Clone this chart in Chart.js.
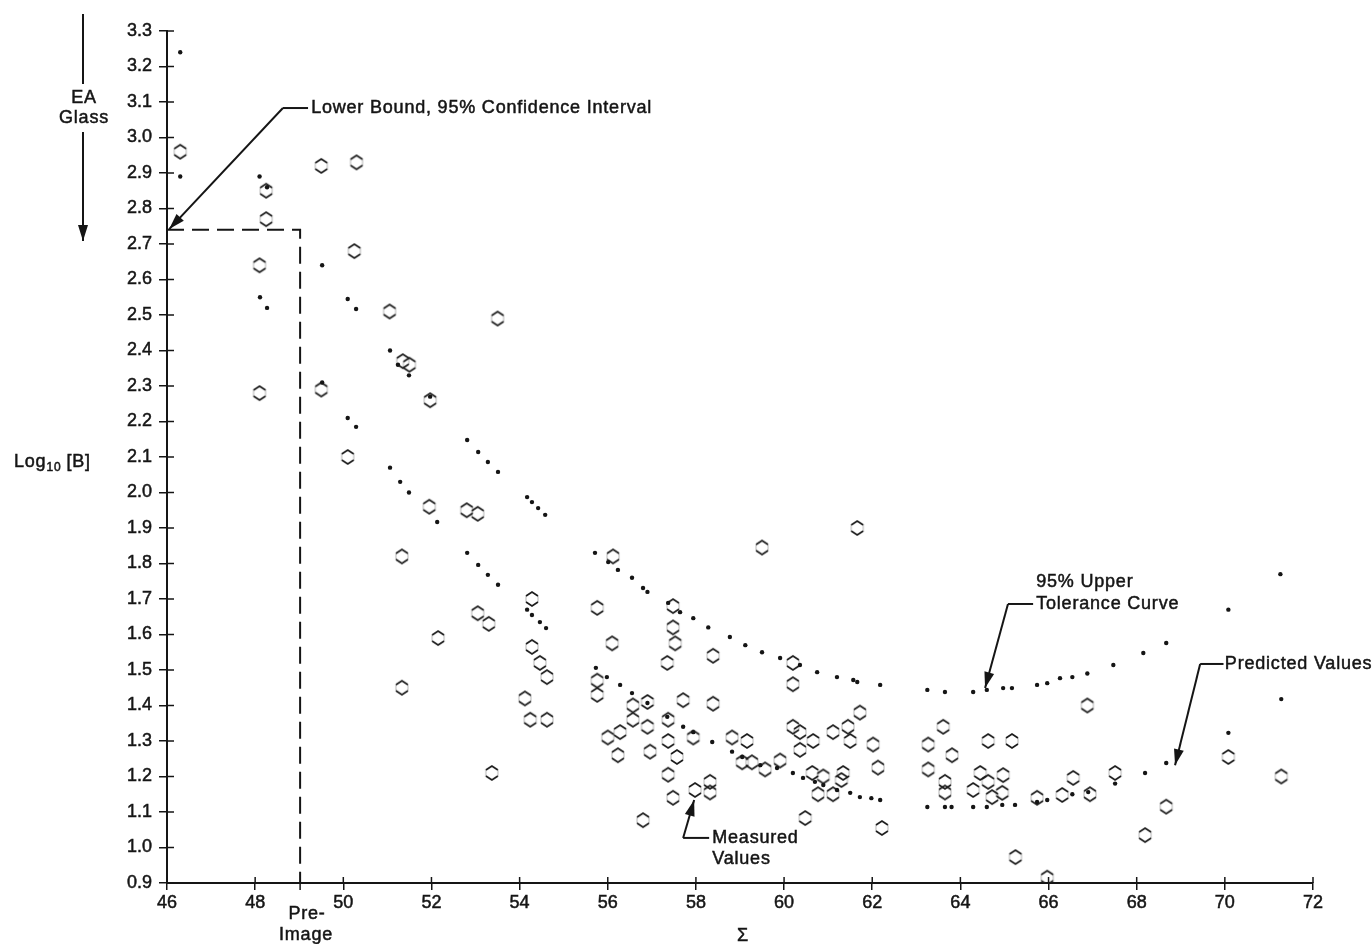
<!DOCTYPE html>
<html>
<head>
<meta charset="utf-8">
<script src="https://cdn.jsdelivr.net/npm/chart.js"></script>
<style>
  body { margin: 0; background: #fff; }
  #wrap { width: 1372px; height: 944px; }
</style>
</head>
<body>
<div id="wrap"><canvas id="chart" width="1372" height="944"></canvas></div>
<script>
// measured values (hexagons)
const measured = [
  [46.3, 2.96],
  [48.1, 2.64], [48.25, 2.85], [48.25, 2.77], [48.1, 2.28],
  [49.5, 2.92], [50.3, 2.93], [50.25, 2.68], [49.5, 2.29], [50.1, 2.10],
  [51.05, 2.51], [53.5, 2.49], [51.35, 2.37], [51.5, 2.36], [51.97, 2.26],
  [51.95, 1.96], [52.8, 1.95], [53.05, 1.94],
  [51.33, 1.82], [52.15, 1.59], [51.33, 1.45], [53.37, 1.21],
  [53.05, 1.66], [53.3, 1.63],
  [54.28, 1.70], [54.28, 1.565], [54.46, 1.52], [54.62, 1.48], [54.12, 1.42], [54.24, 1.36], [54.62, 1.36],
  [56.12, 1.82], [55.76, 1.675], [56.1, 1.575], [55.76, 1.47], [55.76, 1.43],
  [56.0, 1.31], [56.28, 1.325], [56.23, 1.26], [56.57, 1.40], [56.9, 1.41], [56.57, 1.36], [56.9, 1.34], [56.96, 1.27],
  [57.48, 1.68], [57.48, 1.62], [57.53, 1.575], [57.35, 1.52], [58.39, 1.54], [60.2, 1.52], [60.2, 1.46],
  [57.71, 1.415], [58.39, 1.405], [57.37, 1.36], [57.37, 1.30], [57.57, 1.255], [57.94, 1.31], [57.37, 1.205],
  [57.48, 1.14], [57.98, 1.162], [58.32, 1.185], [58.32, 1.155], [56.8, 1.077],
  [58.82, 1.31], [59.16, 1.30], [59.05, 1.24], [59.27, 1.24], [59.57, 1.22], [59.91, 1.245], [59.5, 1.845],
  [60.2, 1.34], [60.36, 1.325], [60.36, 1.275], [60.66, 1.30], [61.11, 1.325], [61.45, 1.34], [61.5, 1.30],
  [60.64, 1.21], [60.89, 1.20], [60.77, 1.15], [61.11, 1.15], [61.34, 1.21], [60.48, 1.083], [61.3, 1.19],
  [61.66, 1.90], [61.72, 1.38], [62.02, 1.29], [62.13, 1.225], [62.22, 1.055],
  [63.61, 1.34], [63.27, 1.29], [63.81, 1.26], [63.27, 1.22], [63.65, 1.185], [63.65, 1.155],
  [64.63, 1.30], [65.17, 1.30], [64.45, 1.21], [64.29, 1.162], [64.63, 1.185], [64.97, 1.204], [64.95, 1.154], [64.72, 1.142],
  [65.74, 1.14], [66.31, 1.148], [66.56, 1.196], [66.94, 1.15], [66.88, 1.40], [67.51, 1.21], [65.25, 0.973], [65.97, 0.915],
  [68.67, 1.115], [68.19, 1.035], [70.08, 1.255], [71.28, 1.20]
];

// predicted values (dots)
const predicted = [
  [46.3, 2.89], [48.11, 2.55], [48.27, 2.52], [49.52, 2.31], [50.1, 2.21], [50.29, 2.185],
  [51.06, 2.07], [51.29, 2.03], [51.49, 2.0], [52.13, 1.917],
  [52.81, 1.83], [53.06, 1.796], [53.28, 1.768], [53.51, 1.74],
  [54.17, 1.67], [54.28, 1.655], [54.46, 1.635], [54.6, 1.618],
  [55.73, 1.506], [55.98, 1.48], [56.28, 1.458], [56.55, 1.435], [56.9, 1.407], [57.35, 1.368],
  [57.71, 1.34], [57.94, 1.325], [58.37, 1.297], [58.82, 1.27], [59.05, 1.255], [59.46, 1.232],
  [59.84, 1.224], [60.2, 1.21], [60.43, 1.196], [60.7, 1.185], [60.89, 1.176], [61.2, 1.162],
  [61.5, 1.154], [61.72, 1.142], [61.98, 1.139], [62.18, 1.134],
  [63.25, 1.114], [63.65, 1.114], [63.8, 1.114], [64.29, 1.114], [64.6, 1.114], [64.95, 1.12], [65.24, 1.12],
  [65.74, 1.128], [65.97, 1.134], [66.54, 1.15], [66.9, 1.156], [67.51, 1.18], [68.19, 1.21],
  [68.67, 1.238], [70.08, 1.323], [71.28, 1.418]
];

// 95% upper tolerance (dots)
const tolerance = [
  [46.3, 3.24], [48.1, 2.89], [48.27, 2.86], [49.52, 2.64], [50.1, 2.545], [50.29, 2.517],
  [51.06, 2.40], [51.24, 2.36], [51.49, 2.33], [51.97, 2.27],
  [52.81, 2.148], [53.06, 2.114], [53.28, 2.086], [53.51, 2.058],
  [54.17, 1.987], [54.28, 1.973], [54.42, 1.956], [54.58, 1.937],
  [55.71, 1.83], [56.01, 1.804], [56.23, 1.782], [56.55, 1.76], [56.8, 1.731], [56.9, 1.72],
  [57.37, 1.689], [57.64, 1.663], [57.94, 1.646], [58.28, 1.62], [58.77, 1.593], [59.12, 1.57],
  [59.5, 1.55], [59.91, 1.534], [60.36, 1.514], [60.75, 1.494], [61.2, 1.48], [61.57, 1.472],
  [61.66, 1.466], [62.18, 1.458],
  [63.25, 1.444], [63.65, 1.438], [64.29, 1.438], [64.6, 1.444], [64.97, 1.449], [65.17, 1.449],
  [65.74, 1.458], [65.97, 1.463], [66.26, 1.477], [66.54, 1.48], [66.88, 1.49], [67.47, 1.514],
  [68.15, 1.548], [68.67, 1.576], [70.08, 1.67], [71.26, 1.77]
];

// lower bound, 95% confidence interval (dashed)
const boundX = [46, 49.02, 49.02];
const boundY = [2.74, 2.74, 0.9];

const xTickValues = [46, 48, 50, 52, 54, 56, 58, 60, 62, 64, 66, 68, 70, 72];
const yTickValues = [0.9, 1.0, 1.1, 1.2, 1.3, 1.4, 1.5, 1.6, 1.7, 1.8, 1.9, 2.0, 2.1, 2.2, 2.3, 2.4, 2.5, 2.6, 2.7, 2.8, 2.9, 3.0, 3.1, 3.2, 3.3];

const INK = '#151515';
const FONT = '"Liberation Sans", Arial, sans-serif';

function makeHex() {
  const c = document.createElement('canvas');
  c.width = 16; c.height = 18;
  const g = c.getContext('2d');
  g.strokeStyle = '#1c1c1c';
  g.lineWidth = 1.7;
  g.beginPath(); g.moveTo(2, 6); g.lineTo(8, 2); g.lineTo(14, 6); g.stroke();
  g.beginPath(); g.moveTo(2, 12); g.lineTo(8, 16); g.lineTo(14, 12); g.stroke();
  g.strokeStyle = 'rgba(0,0,0,0.3)';
  g.lineWidth = 1;
  g.beginPath(); g.moveTo(2, 6); g.lineTo(2, 12); g.moveTo(14, 6); g.lineTo(14, 12); g.stroke();
  return c;
}
const hex = makeHex();

const toPts = arr => arr.map(p => ({ x: p[0], y: p[1] }));

function arrow(ctx, x1, y1, x2, y2) {
  ctx.beginPath(); ctx.moveTo(x1, y1); ctx.lineTo(x2, y2); ctx.stroke();
  const a = Math.atan2(y2 - y1, x2 - x1);
  const L = 16, W = 5;
  ctx.beginPath();
  ctx.moveTo(x2, y2);
  ctx.lineTo(x2 - L * Math.cos(a) + W * Math.sin(a), y2 - L * Math.sin(a) - W * Math.cos(a));
  ctx.lineTo(x2 - L * Math.cos(a) - W * Math.sin(a), y2 - L * Math.sin(a) + W * Math.cos(a));
  ctx.closePath();
  ctx.fill();
}

function label(ctx, text, x, y) {
  ctx.fillText(text, x, y);
  ctx.strokeText(text, x, y);
}

const decor = {
  id: 'decor',
  afterDraw(chart) {
    const ctx = chart.ctx;
    const xs = chart.scales.x, ys = chart.scales.y;
    const X = v => xs.getPixelForValue(v), Y = v => ys.getPixelForValue(v);
    const ca = chart.chartArea;
    ctx.save();
    ctx.strokeStyle = INK; ctx.fillStyle = INK; ctx.lineWidth = 1.5;

    // tick marks inside the axes
    yTickValues.forEach(v => {
      ctx.beginPath(); ctx.moveTo(ca.left, Y(v)); ctx.lineTo(ca.left + 7, Y(v)); ctx.stroke();
    });
    xTickValues.forEach(v => {
      ctx.beginPath(); ctx.moveTo(X(v), ca.bottom); ctx.lineTo(X(v), ca.bottom - 6); ctx.stroke();
    });
    ctx.beginPath(); ctx.moveTo(X(49.02), ca.bottom); ctx.lineTo(X(49.02), ca.bottom + 7); ctx.stroke();

    // arrows and leaders
    ctx.lineWidth = 2;
    ctx.beginPath(); ctx.moveTo(X(48.63), Y(3.083)); ctx.lineTo(X(49.2), Y(3.083)); ctx.stroke();
    arrow(ctx, X(48.63), Y(3.083), X(46.05), Y(2.742));
    ctx.beginPath(); ctx.moveTo(X(65.08), Y(1.686)); ctx.lineTo(X(65.65), Y(1.686)); ctx.stroke();
    arrow(ctx, X(65.08), Y(1.686), X(64.56), Y(1.449));
    ctx.beginPath(); ctx.moveTo(X(69.44), Y(1.517)); ctx.lineTo(X(69.97), Y(1.517)); ctx.stroke();
    arrow(ctx, X(69.44), Y(1.517), X(68.87), Y(1.232));
    ctx.beginPath(); ctx.moveTo(X(57.71), Y(1.027)); ctx.lineTo(X(58.3), Y(1.027)); ctx.stroke();
    arrow(ctx, X(57.71), Y(1.027), X(57.96), Y(1.134));
    ctx.beginPath(); ctx.moveTo(83, 14); ctx.lineTo(83, 84); ctx.stroke();
    arrow(ctx, 83, 132, 83, 241);

    // text
    ctx.font = '18px ' + FONT;
    ctx.letterSpacing = '0.8px';
    ctx.lineWidth = 0.5;
    ctx.textBaseline = 'middle';
    ctx.textAlign = 'left';
    label(ctx, 'Lower Bound, 95% Confidence Interval', X(49.27), Y(3.083));
    label(ctx, '95% Upper', X(65.72), Y(1.748));
    label(ctx, 'Tolerance Curve', X(65.72), Y(1.686));
    label(ctx, 'Predicted Values', X(70.0), Y(1.517));
    label(ctx, 'Measured', X(58.37), Y(1.027));
    label(ctx, 'Values', X(58.37), Y(0.968));

    ctx.textAlign = 'center';
    label(ctx, 'EA', 84, 98);
    label(ctx, 'Glass', 84, 118);
    label(ctx, 'Pre-', 307, 914);
    label(ctx, 'Image', 306, 935);
    label(ctx, '\u03A3', 743, 936);

    // y-axis title
    ctx.textAlign = 'left';
    let tx = 14;
    label(ctx, 'Log', tx, 462);
    tx += ctx.measureText('Log').width;
    ctx.font = '12px ' + FONT;
    label(ctx, '10', tx, 468);
    tx += ctx.measureText('10').width + 5;
    ctx.font = '18px ' + FONT;
    label(ctx, '[B]', tx, 462);

    ctx.restore();
  }
};

new Chart(document.getElementById('chart'), {
  type: 'scatter',
  data: {
    datasets: [
      {
        label: 'Lower Bound',
        type: 'line',
        data: boundX.map((x, i) => ({ x: x, y: boundY[i] })),
        borderColor: INK,
        borderWidth: 2,
        borderDash: [17, 8],
        pointRadius: 0,
        fill: false
      },
      {
        label: 'Predicted Values',
        data: toPts(predicted),
        pointRadius: 2.2,
        pointBackgroundColor: INK,
        pointBorderWidth: 0
      },
      {
        label: '95% Upper Tolerance',
        data: toPts(tolerance),
        pointRadius: 2.2,
        pointBackgroundColor: INK,
        pointBorderWidth: 0
      },
      {
        label: 'Measured Values',
        data: toPts(measured),
        pointStyle: hex,
        pointRadius: 7
      }
    ]
  },
  options: {
    responsive: false,
    animation: false,
    layout: { padding: { top: 31, right: 59, bottom: 0, left: 0 } },
    plugins: { legend: { display: false }, tooltip: { enabled: false } },
    scales: {
      x: {
        type: 'linear',
        min: 46, max: 72,
        afterBuildTicks: s => { s.ticks = xTickValues.map(v => ({ value: v })); },
        afterFit: s => { s.height = 61; },
        ticks: { color: INK, font: { family: FONT, size: 18 }, padding: 2, textStrokeColor: INK, textStrokeWidth: 0.5, callback: v => String(v) },
        grid: { display: true, drawOnChartArea: false, drawTicks: true, tickLength: 7, color: INK, lineWidth: 1.5 },
        border: { display: true, color: INK, width: 2 }
      },
      y: {
        min: 0.9, max: 3.3,
        afterBuildTicks: s => { s.ticks = yTickValues.map(v => ({ value: v })); },
        afterFit: s => { s.width = 167; },
        ticks: { color: INK, font: { family: FONT, size: 18 }, padding: 7, textStrokeColor: INK, textStrokeWidth: 0.5, callback: v => v.toFixed(1) },
        grid: { display: true, drawOnChartArea: false, drawTicks: true, tickLength: 8, color: INK, lineWidth: 1.5 },
        border: { display: true, color: INK, width: 2 }
      }
    }
  },
  plugins: [decor]
});
</script>
</body>
</html>
